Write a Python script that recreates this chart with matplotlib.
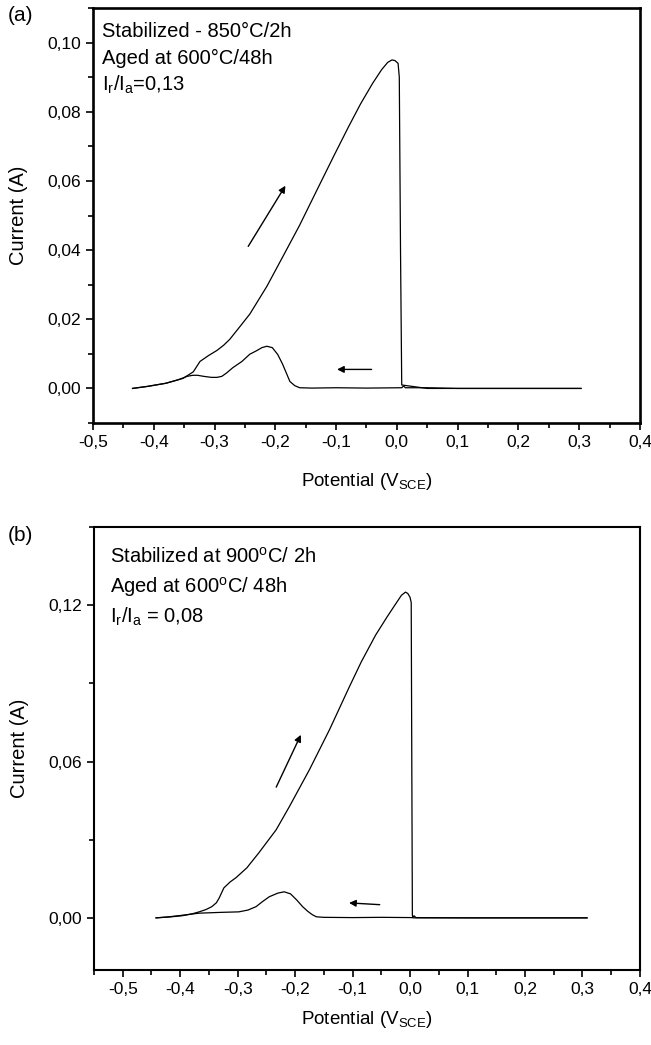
import matplotlib
matplotlib.use('Agg')
import matplotlib.pyplot as plt
from matplotlib.ticker import MultipleLocator, FuncFormatter

# panel (a): stabilized 850C/2h, aged 600C/48h
a_fwd_v = [-0.435, -0.41, -0.38, -0.352, -0.335, -0.324, -0.31, -0.296, -0.285, -0.275,
           -0.26, -0.242, -0.214, -0.188, -0.16, -0.132, -0.103, -0.08, -0.06, -0.04,
           -0.025, -0.015, -0.008, -0.003, 0.002, 0.004, 0.006, 0.008, 0.05, 0.1, 0.2, 0.303]
a_fwd_i = [0.0, 0.0006, 0.0015, 0.0029, 0.0048, 0.0078, 0.0095, 0.011, 0.0125, 0.0142,
           0.0175, 0.0215, 0.0295, 0.038, 0.0472, 0.0572, 0.0675, 0.0755, 0.0822, 0.0882,
           0.0922, 0.0943, 0.095, 0.0948, 0.094, 0.09, 0.04, 0.001, 0.0, 0.0, 0.0, 0.0]
a_rev_v = [0.303, 0.2, 0.1, 0.05, 0.014, 0.011, 0.008, -0.05, -0.1, -0.14, -0.16, -0.168,
           -0.176, -0.182, -0.188, -0.196, -0.205, -0.214, -0.222, -0.232, -0.242, -0.255,
           -0.27, -0.28, -0.288, -0.296, -0.305, -0.318, -0.328, -0.336, -0.345, -0.36,
           -0.38, -0.41, -0.435]
a_rev_i = [0.0, 0.0, 0.0, 0.0002, 0.0002, 0.0007, 0.0002, 0.0001, 0.0002, 0.0001, 0.0002,
           0.0008, 0.002, 0.0045, 0.007, 0.0098, 0.0118, 0.0122, 0.0118, 0.0108, 0.0099,
           0.0078, 0.006, 0.0045, 0.0035, 0.0032, 0.0032, 0.0035, 0.0038, 0.0038, 0.0035,
           0.0025, 0.0015, 0.0006, 0.0]

# panel (b): stabilized 900C/2h, aged 600C/48h
b_fwd_v = [-0.442, -0.42, -0.397, -0.38, -0.367, -0.355, -0.345, -0.337, -0.332, -0.324,
           -0.313, -0.303, -0.284, -0.263, -0.233, -0.21, -0.175, -0.14, -0.106, -0.085,
           -0.06, -0.04, -0.025, -0.015, -0.008, -0.004, 0.0, 0.002, 0.003, 0.004, 0.005,
           0.01, 0.1, 0.2, 0.308]
b_fwd_i = [0.0, 0.0003, 0.0008, 0.0015, 0.0023, 0.0032, 0.0043, 0.0058, 0.0077, 0.0115,
           0.0138, 0.0154, 0.0192, 0.025, 0.0338, 0.0427, 0.0569, 0.0723, 0.0885, 0.0982,
           0.1085, 0.1155, 0.1205, 0.1238, 0.125, 0.1245, 0.123, 0.121, 0.06, 0.001, 0.0,
           0.0, 0.0, 0.0, 0.0]
b_rev_v = [0.308, 0.2, 0.1, 0.01, 0.007, 0.004, -0.05, -0.1, -0.15, -0.163, -0.17, -0.178,
           -0.187, -0.197, -0.208, -0.219, -0.23, -0.245, -0.257, -0.268, -0.282, -0.298,
           -0.33, -0.367, -0.40, -0.42, -0.442]
b_rev_i = [0.0, 0.0, 0.0, 0.0001, 0.0008, 0.0001, 0.0002, 0.0001, 0.0002, 0.0004, 0.0012,
           0.0025, 0.0043, 0.0068, 0.0092, 0.01, 0.0095, 0.0081, 0.0062, 0.0043, 0.003,
           0.0023, 0.0021, 0.0018, 0.0009, 0.0004, 0.0]

a_labels = ['Stabilized - 850°C/2h', 'Aged at 600°C/48h', r'I$_{\rm r}$/I$_{\rm a}$=0,13']
b_labels = [r'Stabilized at 900$^{\rm o}$C/ 2h', r'Aged at 600$^{\rm o}$C/ 48h',
            r'I$_{\rm r}$/I$_{\rm a}$ = 0,08']

plt.rcParams['font.family'] = ['Liberation Sans', 'DejaVu Sans']
plt.rcParams['mathtext.fontset'] = 'custom'
plt.rcParams['mathtext.rm'] = 'Liberation Sans'


def comma(dec):
    return FuncFormatter(lambda v, p: ('%.*f' % (dec, v)).replace('.', ','))


def style_axes(ax, lw, xpad):
    for s in ax.spines.values():
        s.set_linewidth(lw)
    ax.tick_params(which='major', direction='out', length=5, width=1.2, labelsize=12.5)
    ax.tick_params(which='minor', direction='out', length=3.5, width=1.2)
    ax.set_xlabel(r'Potential (V$_{\rm SCE}$)', fontsize=13.5, labelpad=xpad)
    ax.set_ylabel('Current (A)', fontsize=14.5, labelpad=14)


fig = plt.figure(figsize=(6.51, 10.45), dpi=100)

ax1 = fig.add_axes([0.1429, 0.5952, 0.8401, 0.3971])
ax1.plot(a_fwd_v, a_fwd_i, color='black', lw=0.9)
ax1.plot(a_rev_v, a_rev_i, color='black', lw=0.9)
ax1.set_xlim(-0.5, 0.4)
ax1.set_ylim(-0.01, 0.11)
ax1.xaxis.set_major_locator(MultipleLocator(0.1))
ax1.xaxis.set_minor_locator(MultipleLocator(0.05))
ax1.yaxis.set_major_locator(MultipleLocator(0.02))
ax1.yaxis.set_minor_locator(MultipleLocator(0.01))
ax1.xaxis.set_major_formatter(comma(1))
ax1.yaxis.set_major_formatter(comma(2))
style_axes(ax1, 1.9, 15)
ax1.annotate('', xy=(-0.181, 0.0593), xytext=(-0.247, 0.0404),
             arrowprops=dict(arrowstyle='-|>', color='black', lw=1.0, mutation_scale=10))
ax1.annotate('', xy=(-0.103, 0.0055), xytext=(-0.037, 0.0055),
             arrowprops=dict(arrowstyle='-|>', color='black', lw=1.0, mutation_scale=10))
for k, t in enumerate(a_labels):
    ax1.text(0.016, 0.930 - k * 0.064, t, transform=ax1.transAxes, fontsize=14.5)
fig.text(0.012, 0.980, '(a)', fontsize=15)

ax2 = fig.add_axes([0.1444, 0.0718, 0.8386, 0.4239])
ax2.plot(b_fwd_v, b_fwd_i, color='black', lw=0.9)
ax2.plot(b_rev_v, b_rev_i, color='black', lw=0.9)
ax2.set_xlim(-0.55, 0.4)
ax2.set_ylim(-0.02, 0.15)
ax2.set_xticks([-0.5, -0.4, -0.3, -0.2, -0.1, 0.0, 0.1, 0.2, 0.3, 0.4])
ax2.xaxis.set_minor_locator(MultipleLocator(0.05))
ax2.yaxis.set_major_locator(MultipleLocator(0.06))
ax2.yaxis.set_minor_locator(MultipleLocator(0.03))
ax2.xaxis.set_major_formatter(comma(1))
ax2.yaxis.set_major_formatter(comma(2))
style_axes(ax2, 1.5, 9)
ax2.annotate('', xy=(-0.188, 0.0712), xytext=(-0.235, 0.0492),
             arrowprops=dict(arrowstyle='-|>', color='black', lw=1.0, mutation_scale=10))
ax2.annotate('', xy=(-0.111, 0.0058), xytext=(-0.048, 0.005),
             arrowprops=dict(arrowstyle='-|>', color='black', lw=1.0, mutation_scale=10))
for k, t in enumerate(b_labels):
    ax2.text(0.029, 0.919 - k * 0.067, t, transform=ax2.transAxes, fontsize=14.5)
fig.text(0.012, 0.482, '(b)', fontsize=15)

fig.savefig('out.png', dpi=100)
